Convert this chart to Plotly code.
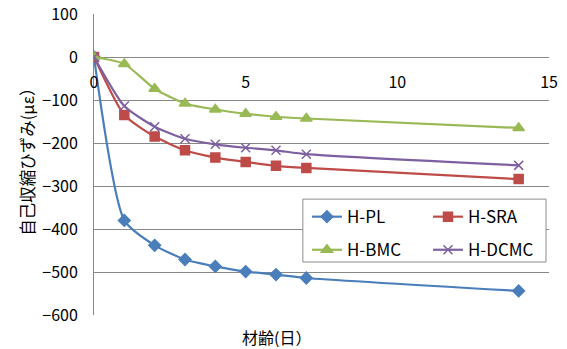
import plotly.graph_objects as go

days = [0, 1, 2, 3, 4, 5, 6, 7, 14]
h_pl = [0, -380, -438, -471, -487, -499, -506, -514, -544]
h_sra = [0, -135, -185, -217, -234, -244, -253, -258, -284]
h_bmc = [0, -16, -74, -108, -122, -132, -139, -143, -165]
h_dcmc = [0, -114, -162, -190, -203, -211, -217, -226, -252]

x_ticks = [0, 5, 10, 15]
y_ticks = [100, 0, -100, -200, -300, -400, -500, -600]

FONT = "Noto Sans CJK JP"

series = [
    ("H-PL", h_pl, "#4A7EBB", "diamond", 9, "legend"),
    ("H-SRA", h_sra, "#BE4B48", "square", 9, "legend2"),
    ("H-BMC", h_bmc, "#98B954", "triangle-up", 10, "legend"),
    ("H-DCMC", h_dcmc, "#7D60A0", "x-thin-open", 9, "legend2"),
]

fig = go.Figure()
for name, vals, col, sym, sz, lg in series:
    fig.add_trace(go.Scatter(
        x=days, y=vals, name=name, mode="lines+markers", legend=lg, legendgroup=name,
        line=dict(color=col, width=2.2, shape="spline", smoothing=0.6),
        marker=dict(symbol=sym, size=sz, color=col, line=dict(color=col, width=1.5)),
    ))

leg_common = dict(
    orientation="v", yanchor="top", xanchor="left",
    bgcolor="rgba(0,0,0,0)", borderwidth=0,
    font=dict(size=17, family=FONT), tracegroupgap=8,
)

fig.update_layout(
    width=567, height=349,
    margin=dict(l=94, r=18, t=14, b=34),
    paper_bgcolor="white", plot_bgcolor="white",
    font=dict(family=FONT, size=16, color="#000000"),
    showlegend=True,
    legend=dict(x=0.468, y=0.385, **leg_common),
    legend2=dict(x=0.734, y=0.385, **leg_common),
    xaxis=dict(
        range=[0, 15], tickvals=x_ticks, showgrid=False, zeroline=False,
        showline=False, anchor="free", position=6/7, automargin=False,
        ticks="outside", ticklen=11, tickcolor="rgba(0,0,0,0)",
        tickfont=dict(size=16),
    ),
    yaxis=dict(
        range=[-600, 100], tickvals=y_ticks, showgrid=True, gridcolor="#888888",
        gridwidth=1, zeroline=False, showline=True, linecolor="#888888", linewidth=1,
        ticks="outside", ticklen=12, tickcolor="rgba(0,0,0,0)", automargin=False,
        tickfont=dict(size=16),
    ),
)
fig.add_shape(
    type="rect", xref="paper", yref="paper", x0=0.459, x1=0.9934, y0=0.176, y1=0.385,
    line=dict(color="#8c8c8c", width=1), fillcolor="white", layer="above",
)
fig.add_annotation(
    text="自己収縮ひずみ(με）", x=-0.149, y=0.523, xref="paper", yref="paper",
    showarrow=False, textangle=-90, xanchor="center", yanchor="middle",
    font=dict(size=16.5),
)
fig.add_annotation(
    text="材齢(日）", x=0.402, y=-0.073, xref="paper", yref="paper",
    showarrow=False, xanchor="center", yanchor="middle", font=dict(size=16),
)
fig.write_html("out.html")
